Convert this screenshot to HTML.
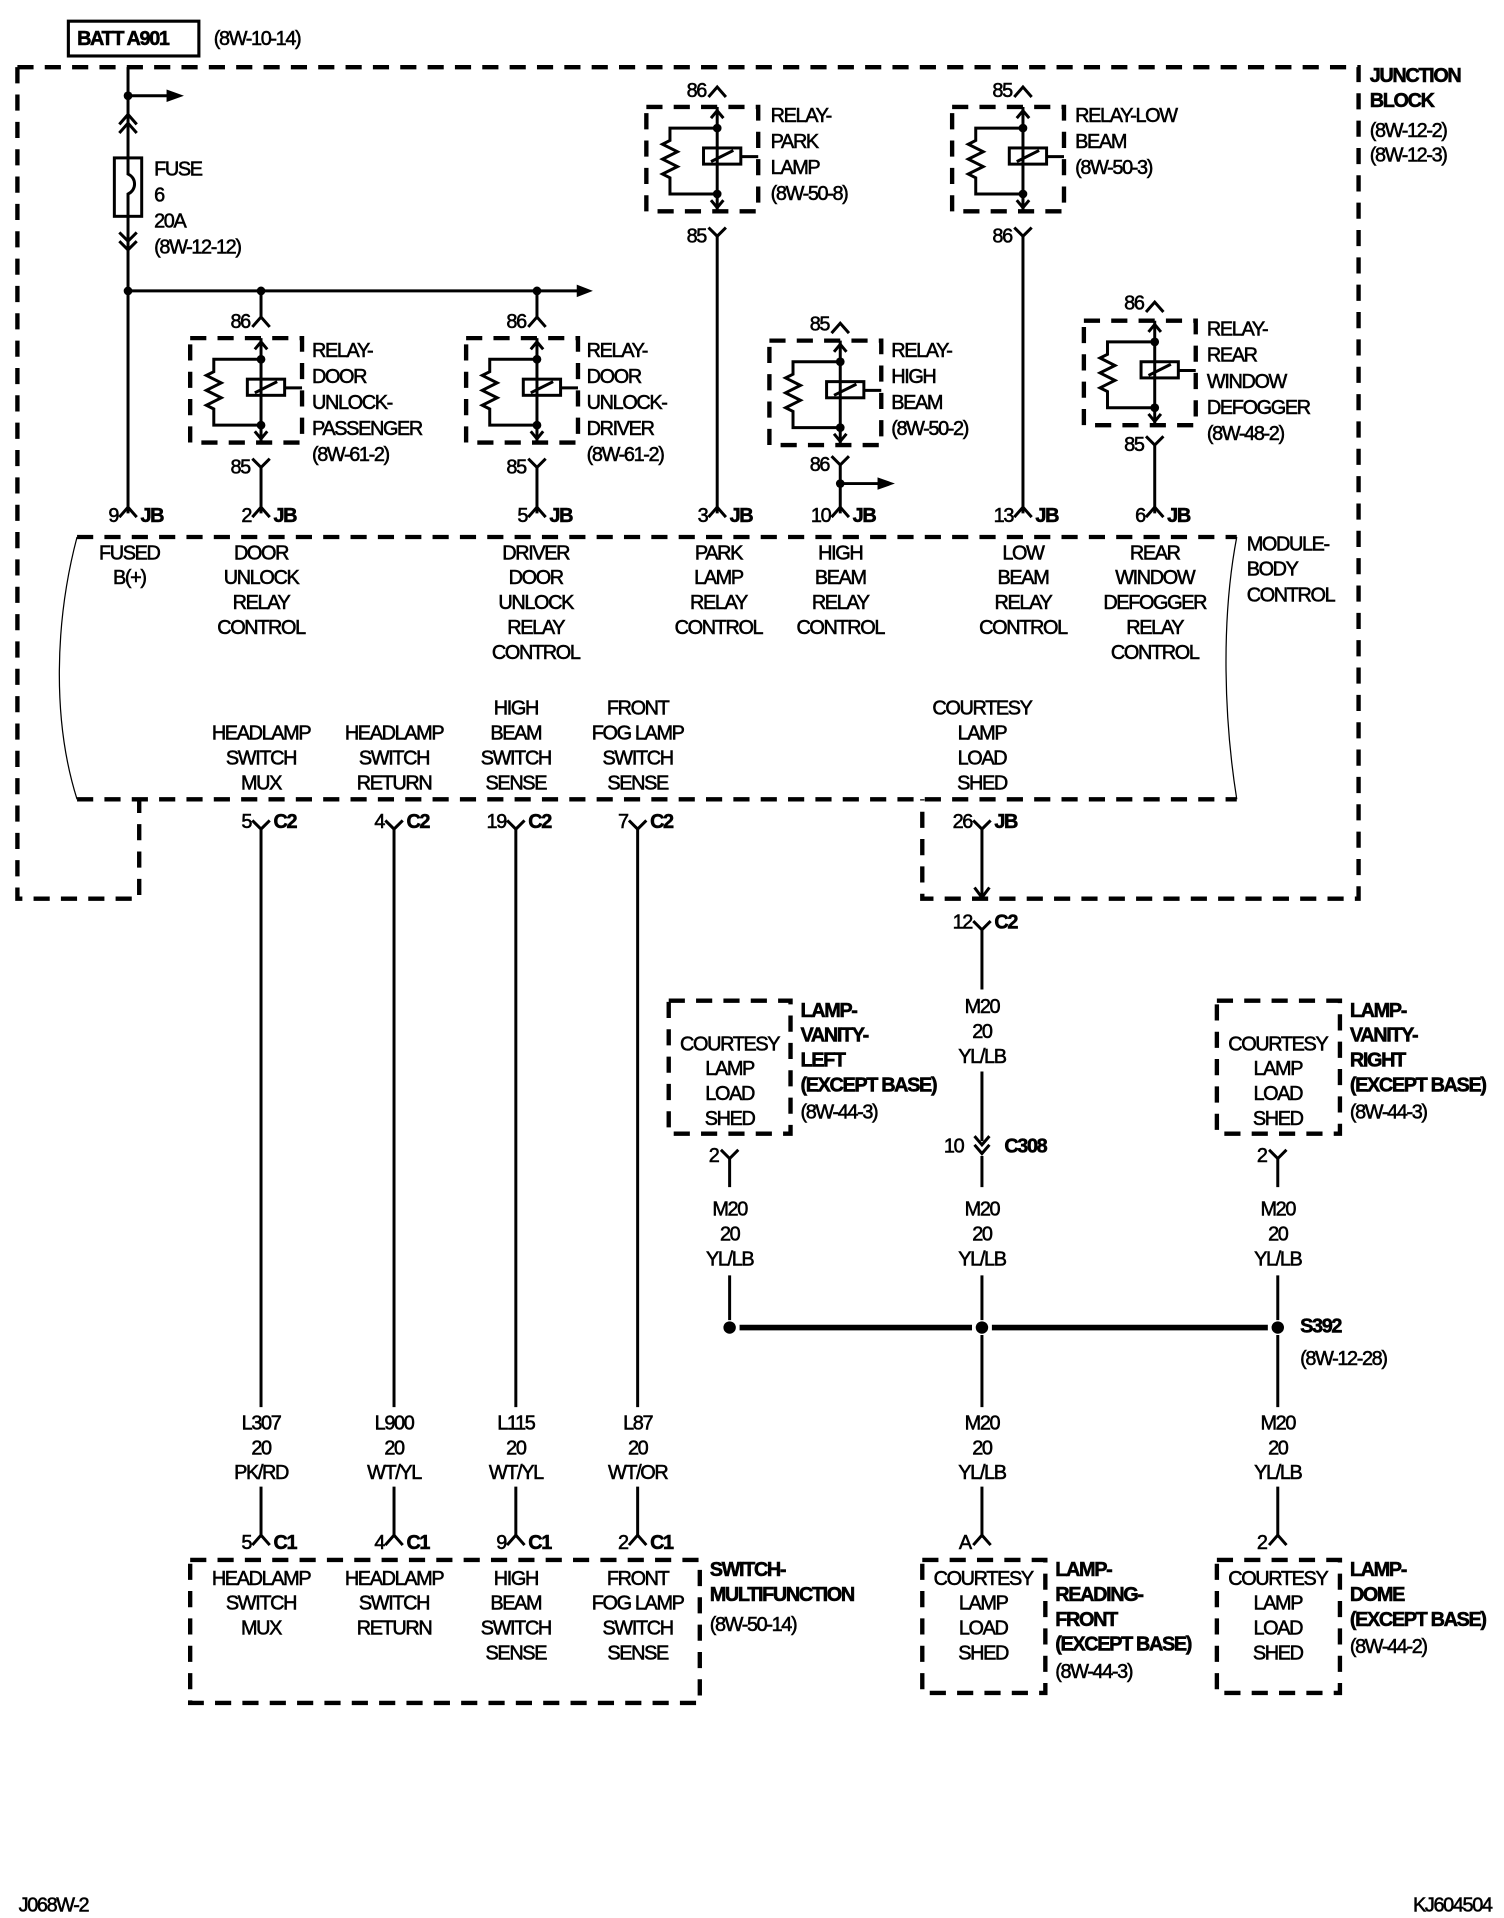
<!DOCTYPE html>
<html><head><meta charset="utf-8"><style>
html,body{margin:0;padding:0;background:#fff}
svg{display:block}
text{font-family:"Liberation Sans",Arial,sans-serif;font-size:16px;letter-spacing:-1.1px;fill:#000;stroke:#000;stroke-width:0.45}
.b{font-weight:bold}
.m{text-anchor:middle}
.e{text-anchor:end}
.w{stroke:#000;stroke-width:2.4;fill:none}
.d{stroke:#000;stroke-width:3.5;fill:none;stroke-dasharray:13 9}
</style></head><body>
<svg width="1504" height="1918" viewBox="0 0 1210 1543" xmlns="http://www.w3.org/2000/svg">
<defs>
<g id="r">
<rect x="-57" y="0" width="90" height="84" class="d"/>
<line x1="0" y1="0" x2="0" y2="84" class="w"/>
<polyline points="-5,9 0,3 5,9" class="w"/>
<polyline points="-5,75 0,81 5,75" class="w"/>
<circle cx="0" cy="17" r="3.5"/><circle cx="0" cy="70" r="3.5"/>
<polyline points="0,17 -38,17 -38,27 -44,30 -32,36 -44,42 -32,48 -44,54 -38,57 -38,70 0,70" class="w"/>
<rect x="-11" y="33" width="30" height="13" class="w" fill="#fff"/>
<line x1="-5" y1="44" x2="13" y2="35" class="w"/>
<line x1="19" y1="40" x2="33" y2="40" class="w"/>
</g>
<polyline id="f" points="-7,6 0,-2 7,6" class="w"/>
<polyline id="y" points="-7,-7 0,0 7,-7" class="w"/>
</defs>

<rect x="55" y="17" width="105" height="28" stroke="#000" stroke-width="2.5" fill="none"/>
<text x="62" y="36" class="b">BATT A901</text>
<text x="172" y="36">(8W-10-14)</text>

<path d="M14,54 H1093 V723 H742 V643 M14,54 V723 H112 V643" class="d"/>
<text x="1102" y="66" class="b">JUNCTION</text>
<text x="1102" y="86" class="b">BLOCK</text>
<text x="1102" y="110">(8W-12-2)</text>
<text x="1102" y="130">(8W-12-3)</text>

<line x1="62" y1="432" x2="995" y2="432" class="d"/>
<line x1="62" y1="643" x2="995" y2="643" class="d"/>
<path d="M62,432 C44,500 42,580 62,643" stroke="#000" stroke-width="1" fill="none"/>
<path d="M995,432 C982,500 985,580 995,643" stroke="#000" stroke-width="1" fill="none"/>
<text x="1003" y="443">MODULE-</text>
<text x="1003" y="463">BODY</text>
<text x="1003" y="484">CONTROL</text>

<line x1="103" y1="54" x2="103" y2="127" class="w"/>
<line x1="103" y1="174" x2="103" y2="413" class="w"/>
<circle cx="103" cy="77" r="3.5"/>
<line x1="103" y1="77" x2="135" y2="77" class="w"/>
<polygon points="134,72 148,77 134,82"/>
<use href="#f" x="103" y="94"/><use href="#f" x="103" y="101"/>
<rect x="92" y="127" width="22" height="47" class="w"/>
<path d="M103,127 V140 C110,143 110,153 103,156 V174" class="w"/>
<polyline points="96,187 103,194 110,187" class="w"/>
<polyline points="96,194 103,201 110,194" class="w"/>
<text x="124" y="141">FUSE</text>
<text x="124" y="162">6</text>
<text x="124" y="183">20A</text>
<text x="124" y="204">(8W-12-12)</text>
<circle cx="103" cy="234" r="3.5"/>
<line x1="103" y1="234" x2="466" y2="234" class="w"/>
<polygon points="464,229 477,234 464,239"/>
<circle cx="210" cy="234" r="3.5"/><circle cx="432" cy="234" r="3.5"/>

<line x1="210" y1="234" x2="210" y2="257" class="w"/>
<use href="#f" x="210" y="257"/><text x="201" y="264" class="e">86</text>
<use href="#r" x="210" y="272"/>
<use href="#y" x="210" y="376"/><text x="201" y="381" class="e">85</text>
<line x1="210" y1="376" x2="210" y2="413" class="w"/>
<text x="251" y="287">RELAY-</text><text x="251" y="308">DOOR</text><text x="251" y="329">UNLOCK-</text><text x="251" y="350">PASSENGER</text><text x="251" y="371">(8W-61-2)</text>

<line x1="432" y1="234" x2="432" y2="257" class="w"/>
<use href="#f" x="432" y="257"/><text x="423" y="264" class="e">86</text>
<use href="#r" x="432" y="272"/>
<use href="#y" x="432" y="376"/><text x="423" y="381" class="e">85</text>
<line x1="432" y1="376" x2="432" y2="413" class="w"/>
<text x="472" y="287">RELAY-</text><text x="472" y="308">DOOR</text><text x="472" y="329">UNLOCK-</text><text x="472" y="350">DRIVER</text><text x="472" y="371">(8W-61-2)</text>

<use href="#f" x="577" y="72"/><text x="568" y="78" class="e">86</text>
<use href="#r" x="577" y="86"/>
<use href="#y" x="577" y="190"/><text x="568" y="195" class="e">85</text>
<line x1="577" y1="190" x2="577" y2="413" class="w"/>
<text x="620" y="98">RELAY-</text><text x="620" y="119">PARK</text><text x="620" y="140">LAMP</text><text x="620" y="161">(8W-50-8)</text>

<use href="#f" x="823" y="72"/><text x="814" y="78" class="e">85</text>
<use href="#r" x="823" y="86"/>
<use href="#y" x="823" y="190"/><text x="814" y="195" class="e">86</text>
<line x1="823" y1="190" x2="823" y2="413" class="w"/>
<text x="865" y="98">RELAY-LOW</text><text x="865" y="119">BEAM</text><text x="865" y="140">(8W-50-3)</text>

<use href="#f" x="676" y="262"/><text x="667" y="266" class="e">85</text>
<use href="#r" x="676" y="274"/>
<use href="#y" x="676" y="374"/><text x="667" y="379" class="e">86</text>
<line x1="676" y1="374" x2="676" y2="413" class="w"/>
<circle cx="676" cy="389" r="3.5"/>
<line x1="676" y1="389" x2="708" y2="389" class="w"/>
<polygon points="706,384 720,389 706,394"/>
<text x="717" y="287">RELAY-</text><text x="717" y="308">HIGH</text><text x="717" y="329">BEAM</text><text x="717" y="350">(8W-50-2)</text>

<use href="#f" x="929" y="245"/><text x="920" y="249" class="e">86</text>
<use href="#r" x="929" y="258"/>
<use href="#y" x="929" y="358"/><text x="920" y="363" class="e">85</text>
<line x1="929" y1="358" x2="929" y2="413" class="w"/>
<text x="971" y="270">RELAY-</text><text x="971" y="291">REAR</text><text x="971" y="312">WINDOW</text><text x="971" y="333">DEFOGGER</text><text x="971" y="354">(8W-48-2)</text>

<use href="#f" x="103" y="410"/><text x="95" y="420" class="e">9</text><text x="113" y="420" class="b">JB</text>
<use href="#f" x="210" y="410"/><text x="202" y="420" class="e">2</text><text x="220" y="420" class="b">JB</text>
<use href="#f" x="432" y="410"/><text x="424" y="420" class="e">5</text><text x="442" y="420" class="b">JB</text>
<use href="#f" x="577" y="410"/><text x="569" y="420" class="e">3</text><text x="587" y="420" class="b">JB</text>
<use href="#f" x="676" y="410"/><text x="668" y="420" class="e">10</text><text x="686" y="420" class="b">JB</text>
<use href="#f" x="823" y="410"/><text x="815" y="420" class="e">13</text><text x="833" y="420" class="b">JB</text>
<use href="#f" x="929" y="410"/><text x="921" y="420" class="e">6</text><text x="939" y="420" class="b">JB</text>

<g>
<text x="104" y="450" class="m">FUSED</text><text x="104" y="470" class="m">B(+)</text>
<text x="210" y="450" class="m">DOOR</text><text x="210" y="470" class="m">UNLOCK</text><text x="210" y="490" class="m">RELAY</text><text x="210" y="510" class="m">CONTROL</text>
<text x="431" y="450" class="m">DRIVER</text><text x="431" y="470" class="m">DOOR</text><text x="431" y="490" class="m">UNLOCK</text><text x="431" y="510" class="m">RELAY</text><text x="431" y="530" class="m">CONTROL</text>
<text x="578" y="450" class="m">PARK</text><text x="578" y="470" class="m">LAMP</text><text x="578" y="490" class="m">RELAY</text><text x="578" y="510" class="m">CONTROL</text>
<text x="676" y="450" class="m">HIGH</text><text x="676" y="470" class="m">BEAM</text><text x="676" y="490" class="m">RELAY</text><text x="676" y="510" class="m">CONTROL</text>
<text x="823" y="450" class="m">LOW</text><text x="823" y="470" class="m">BEAM</text><text x="823" y="490" class="m">RELAY</text><text x="823" y="510" class="m">CONTROL</text>
<text x="929" y="450" class="m">REAR</text><text x="929" y="470" class="m">WINDOW</text><text x="929" y="490" class="m">DEFOGGER</text><text x="929" y="510" class="m">RELAY</text><text x="929" y="530" class="m">CONTROL</text>
<text x="210" y="595" class="m">HEADLAMP</text><text x="210" y="615" class="m">SWITCH</text><text x="210" y="635" class="m">MUX</text>
<text x="317" y="595" class="m">HEADLAMP</text><text x="317" y="615" class="m">SWITCH</text><text x="317" y="635" class="m">RETURN</text>
<text x="415" y="575" class="m">HIGH</text><text x="415" y="595" class="m">BEAM</text><text x="415" y="615" class="m">SWITCH</text><text x="415" y="635" class="m">SENSE</text>
<text x="513" y="575" class="m">FRONT</text><text x="513" y="595" class="m">FOG LAMP</text><text x="513" y="615" class="m">SWITCH</text><text x="513" y="635" class="m">SENSE</text>
<text x="790" y="575" class="m">COURTESY</text><text x="790" y="595" class="m">LAMP</text><text x="790" y="615" class="m">LOAD</text><text x="790" y="635" class="m">SHED</text>
</g>

<use href="#y" x="210" y="667"/><text x="202" y="666" class="e">5</text><text x="220" y="666" class="b">C2</text>
<use href="#y" x="317" y="667"/><text x="309" y="666" class="e">4</text><text x="327" y="666" class="b">C2</text>
<use href="#y" x="415" y="667"/><text x="407" y="666" class="e">19</text><text x="425" y="666" class="b">C2</text>
<use href="#y" x="513" y="667"/><text x="505" y="666" class="e">7</text><text x="523" y="666" class="b">C2</text>
<path d="M210,667 V1132 M210,1196 V1237 M317,667 V1132 M317,1196 V1237 M415,667 V1132 M415,1196 V1237 M513,667 V1132 M513,1196 V1237" class="w"/>
<text x="210" y="1150" class="m">L307</text><text x="210" y="1170" class="m">20</text><text x="210" y="1190" class="m">PK/RD</text>
<text x="317" y="1150" class="m">L900</text><text x="317" y="1170" class="m">20</text><text x="317" y="1190" class="m">WT/YL</text>
<text x="415" y="1150" class="m">L115</text><text x="415" y="1170" class="m">20</text><text x="415" y="1190" class="m">WT/YL</text>
<text x="513" y="1150" class="m">L87</text><text x="513" y="1170" class="m">20</text><text x="513" y="1190" class="m">WT/OR</text>
<use href="#f" x="210" y="1237"/><text x="202" y="1246" class="e">5</text><text x="220" y="1246" class="b">C1</text>
<use href="#f" x="317" y="1237"/><text x="309" y="1246" class="e">4</text><text x="327" y="1246" class="b">C1</text>
<use href="#f" x="415" y="1237"/><text x="407" y="1246" class="e">9</text><text x="425" y="1246" class="b">C1</text>
<use href="#f" x="513" y="1237"/><text x="505" y="1246" class="e">2</text><text x="523" y="1246" class="b">C1</text>

<rect x="153" y="1255" width="410" height="115" class="d"/>
<text x="210" y="1275" class="m">HEADLAMP</text><text x="210" y="1295" class="m">SWITCH</text><text x="210" y="1315" class="m">MUX</text>
<text x="317" y="1275" class="m">HEADLAMP</text><text x="317" y="1295" class="m">SWITCH</text><text x="317" y="1315" class="m">RETURN</text>
<text x="415" y="1275" class="m">HIGH</text><text x="415" y="1295" class="m">BEAM</text><text x="415" y="1315" class="m">SWITCH</text><text x="415" y="1335" class="m">SENSE</text>
<text x="513" y="1275" class="m">FRONT</text><text x="513" y="1295" class="m">FOG LAMP</text><text x="513" y="1315" class="m">SWITCH</text><text x="513" y="1335" class="m">SENSE</text>
<text x="571" y="1268" class="b">SWITCH-</text><text x="571" y="1288" class="b">MULTIFUNCTION</text><text x="571" y="1312">(8W-50-14)</text>

<use href="#y" x="790" y="667"/><text x="782" y="666" class="e">26</text><text x="800" y="666" class="b">JB</text>
<line x1="790" y1="667" x2="790" y2="723" class="w"/>
<polyline points="784,714 790,722 796,714" class="w"/>
<use href="#y" x="790" y="748"/><text x="782" y="747" class="e">12</text><text x="800" y="747" class="b">C2</text>
<path d="M790,748 V796 M790,862 V918 M790,930 V955 M790,1026 V1062 M790,1074 V1132 M790,1196 V1237" class="w"/>
<text x="790" y="815" class="m">M20</text><text x="790" y="835" class="m">20</text><text x="790" y="855" class="m">YL/LB</text>
<polyline points="784,914 790,921 796,914" class="w"/>
<polyline points="784,921 790,928 796,921" class="w"/>
<text x="775" y="927" class="e">10</text><text x="808" y="927" class="b">C308</text>
<text x="790" y="978" class="m">M20</text><text x="790" y="998" class="m">20</text><text x="790" y="1018" class="m">YL/LB</text>

<rect x="538" y="805" width="98" height="107" class="d"/>
<text x="587" y="845" class="m">COURTESY</text><text x="587" y="865" class="m">LAMP</text><text x="587" y="885" class="m">LOAD</text><text x="587" y="905" class="m">SHED</text>
<text x="644" y="818" class="b">LAMP-</text><text x="644" y="838" class="b">VANITY-</text><text x="644" y="858" class="b">LEFT</text><text x="644" y="878" class="b">(EXCEPT BASE)</text><text x="644" y="900">(8W-44-3)</text>
<use href="#y" x="587" y="932"/><text x="578" y="935" class="e">2</text>
<path d="M587,932 V955 M587,1026 V1062" class="w"/>
<text x="587" y="978" class="m">M20</text><text x="587" y="998" class="m">20</text><text x="587" y="1018" class="m">YL/LB</text>

<rect x="979" y="805" width="99" height="107" class="d"/>
<text x="1028" y="845" class="m">COURTESY</text><text x="1028" y="865" class="m">LAMP</text><text x="1028" y="885" class="m">LOAD</text><text x="1028" y="905" class="m">SHED</text>
<text x="1086" y="818" class="b">LAMP-</text><text x="1086" y="838" class="b">VANITY-</text><text x="1086" y="858" class="b">RIGHT</text><text x="1086" y="878" class="b">(EXCEPT BASE)</text><text x="1086" y="900">(8W-44-3)</text>
<use href="#y" x="1028" y="932"/><text x="1019" y="935" class="e">2</text>
<path d="M1028,932 V955 M1028,1026 V1062 M1028,1074 V1132 M1028,1196 V1237" class="w"/>
<text x="1028" y="978" class="m">M20</text><text x="1028" y="998" class="m">20</text><text x="1028" y="1018" class="m">YL/LB</text>

<line x1="595" y1="1068" x2="782" y2="1068" stroke="#000" stroke-width="4.5"/>
<line x1="798" y1="1068" x2="1020" y2="1068" stroke="#000" stroke-width="4.5"/>
<circle cx="587" cy="1068" r="5"/><circle cx="790" cy="1068" r="5"/><circle cx="1028" cy="1068" r="5"/>
<text x="1046" y="1072" class="b">S392</text><text x="1046" y="1098">(8W-12-28)</text>

<text x="790" y="1150" class="m">M20</text><text x="790" y="1170" class="m">20</text><text x="790" y="1190" class="m">YL/LB</text>
<text x="1028" y="1150" class="m">M20</text><text x="1028" y="1170" class="m">20</text><text x="1028" y="1190" class="m">YL/LB</text>

<use href="#f" x="790" y="1237"/><text x="781" y="1246" class="e">A</text>
<rect x="742" y="1255" width="99" height="107" class="d"/>
<text x="791" y="1275" class="m">COURTESY</text><text x="791" y="1295" class="m">LAMP</text><text x="791" y="1315" class="m">LOAD</text><text x="791" y="1335" class="m">SHED</text>
<text x="849" y="1268" class="b">LAMP-</text><text x="849" y="1288" class="b">READING-</text><text x="849" y="1308" class="b">FRONT</text><text x="849" y="1328" class="b">(EXCEPT BASE)</text><text x="849" y="1350">(8W-44-3)</text>

<use href="#f" x="1028" y="1237"/><text x="1019" y="1246" class="e">2</text>
<rect x="979" y="1255" width="99" height="107" class="d"/>
<text x="1028" y="1275" class="m">COURTESY</text><text x="1028" y="1295" class="m">LAMP</text><text x="1028" y="1315" class="m">LOAD</text><text x="1028" y="1335" class="m">SHED</text>
<text x="1086" y="1268" class="b">LAMP-</text><text x="1086" y="1288" class="b">DOME</text><text x="1086" y="1308" class="b">(EXCEPT BASE)</text><text x="1086" y="1330">(8W-44-2)</text>

<text x="15" y="1538">J068W-2</text>
<text x="1200" y="1538" class="e">KJ604504</text>
</svg>
</body></html>
